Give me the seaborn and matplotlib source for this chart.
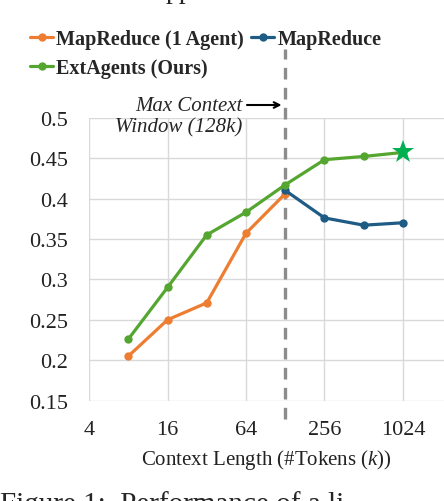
import pandas as pd
import matplotlib
matplotlib.use("Agg")
import matplotlib.pyplot as plt
import seaborn as sns

# context lengths (k tokens) and scores
ctx_single = [8, 16, 32, 64, 128]
mapreduce_1agent = [0.205, 0.250, 0.271, 0.357, 0.406]

ctx_multi = [128, 256, 512, 1024]
mapreduce = [0.410, 0.376, 0.367, 0.370]

ctx_ext = [8, 16, 32, 64, 128, 256, 512, 1024]
extagents = [0.226, 0.290, 0.355, 0.383, 0.417, 0.448, 0.452, 0.457]

x_ticks = [4, 16, 64, 256, 1024]
y_ticks = [0.15, 0.2, 0.25, 0.3, 0.35, 0.4, 0.45, 0.5]

df = pd.concat([
    pd.DataFrame({"ctx": ctx_single, "score": mapreduce_1agent, "method": "MapReduce (1 Agent)"}),
    pd.DataFrame({"ctx": ctx_multi, "score": mapreduce, "method": "MapReduce"}),
    pd.DataFrame({"ctx": ctx_ext, "score": extagents, "method": "ExtAgents (Ours)"}),
])
palette = {"MapReduce (1 Agent)": "#ED7D31", "MapReduce": "#1F5C85", "ExtAgents (Ours)": "#55A630"}

sns.set_style("white")
plt.rcParams["font.family"] = ["Liberation Serif", "DejaVu Serif"]
plt.rcParams["mathtext.fontset"] = "custom"
plt.rcParams["mathtext.rm"] = "Liberation Serif"
plt.rcParams["mathtext.it"] = "Liberation Serif:italic"

fig = plt.figure(figsize=(4.44, 5.02), dpi=100)
ax = fig.add_axes([0.2005, 0.1998, 0.7995, 0.5639])

sns.lineplot(data=df, x="ctx", y="score", hue="method", palette=palette,
             marker="o", markersize=6, markeredgewidth=0, linewidth=2.3, ax=ax)
ax.plot([1024], [extagents[-1]], marker="*", color="#00B050", markersize=17,
        markeredgewidth=0, linestyle="none", zorder=5)

ax.set_xscale("log", base=2)
ax.set_xlim(4, 2113)
ax.set_ylim(0.15, 0.5)
ax.set_xticks(x_ticks)
ax.set_xticklabels([str(t) for t in x_ticks])
ax.set_yticks(y_ticks)
ax.set_yticklabels([f"{t:g}" for t in y_ticks])
ax.minorticks_off()
ax.tick_params(length=0, labelsize=16, colors="#222222")
ax.tick_params(axis="y", pad=15)
ax.tick_params(axis="x", pad=14)
ax.grid(True, color="#D9D9D9", linewidth=1)
for s in ax.spines.values():
    s.set_visible(False)
ax.set_ylabel("")
ax.set_xlabel("Context Length (#Tokens ($k$))", fontsize=15, color="#222222", labelpad=6)

# max context window marker
ax.axvline(128, ymin=-0.065, ymax=1.242, color="#8C8C8C", linewidth=2.4,
           linestyle=(0, (3.5, 2.5)), clip_on=False, zorder=1)
ax.annotate("", xy=(126, 0.5156), xytext=(62, 0.5156),
            arrowprops=dict(arrowstyle="->", color="black", lw=1.5),
            annotation_clip=False)
ax.text(60, 0.5156, "Max Context", style="italic", fontsize=15,
        ha="right", va="center")
ax.text(60, 0.4884, "Window (128k)", style="italic", fontsize=15,
        ha="right", va="center")

# legend: orange and green in first column, blue in second
handles, labels = ax.get_legend_handles_labels()
order = [0, 2, 1]
ax.legend([handles[i] for i in order], [labels[i] for i in order],
          loc="upper left", bbox_to_anchor=(-0.166, 1.313), ncol=2,
          frameon=False, prop={"weight": "bold", "size": 14.5},
          handlelength=1.15, handletextpad=0.15, columnspacing=0.35,
          labelspacing=0.45, borderaxespad=0, borderpad=0)

# cropped caption fragments from the page
fig.text(0.372, 1.003, "pp", fontsize=20, ha="left", va="baseline")
fig.text(0.0, 0.022, "Figure 1:  Performance of a li", fontsize=21,
         ha="left", va="top")

fig.savefig("out.png", dpi=100)
